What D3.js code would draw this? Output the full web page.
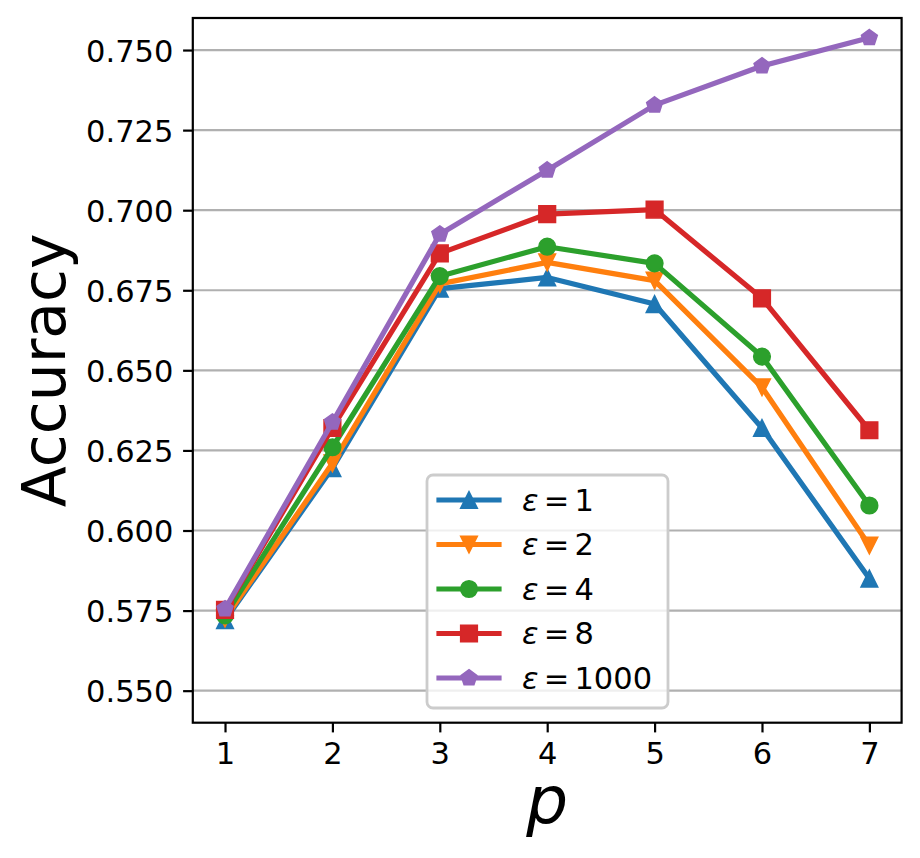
<!DOCTYPE html>
<html>
<head>
<meta charset="utf-8">
<script src="https://cdn.jsdelivr.net/npm/d3@7"></script>
<style>
  html, body { margin: 0; padding: 0; background: #fff; }
  svg { display: block; }
  text { font-family: "DejaVu Sans", sans-serif; }
</style>
</head>
<body>
<svg id="chart" width="920" height="858"></svg>
<script>
// ---- data ----
const pValues = [1, 2, 3, 4, 5, 6, 7];
const yTicks = [0.550, 0.575, 0.600, 0.625, 0.650, 0.675, 0.700, 0.725, 0.750];
const seriesLabels = ["1", "2", "4", "8", "1000"];
const eps1    = [0.5720, 0.6195, 0.6755, 0.6790, 0.6707, 0.6320, 0.5850];
const eps2    = [0.5725, 0.6210, 0.6770, 0.6837, 0.6780, 0.6447, 0.5953];
const eps4    = [0.5735, 0.6260, 0.6794, 0.6886, 0.6834, 0.6543, 0.6078];
const eps8    = [0.5752, 0.6320, 0.6865, 0.6988, 0.7002, 0.6725, 0.6313];
const eps1000 = [0.5755, 0.6338, 0.6925, 0.7125, 0.7328, 0.7450, 0.7538];

const colors = ["#1f77b4", "#ff7f0e", "#2ca02c", "#d62728", "#9467bd"];
const markers = ["triUp", "triDown", "circle", "square", "pentagon"];
const series = [eps1, eps2, eps4, eps8, eps1000].map((vals, i) => ({
  label: seriesLabels[i], values: vals, color: colors[i], marker: markers[i]
}));

// ---- layout ----
const L = 192.8, R = 901.6, T = 18, B = 722.7;
const svg = d3.select("#chart");
const x = d3.scaleLinear().domain([0.7, 7.3]).range([L, R]);
const y = d3.scaleLinear().domain([0.54, 0.76]).range([B, T]);

const fs = 30.5;
const ms = 16.7; // marker size px

function markerPath(type, s) {
  const h = s / 2;
  if (type === "triUp") return `M0,${-h}L${-h},${h}L${h},${h}Z`;
  if (type === "triDown") return `M0,${h}L${-h},${-h}L${h},${-h}Z`;
  if (type === "square") return `M${-h},${-h}H${h}V${h}H${-h}Z`;
  if (type === "circle") return d3.symbol(d3.symbolCircle, Math.PI * h * h)();
  if (type === "pentagon") {
    const pts = d3.range(5).map(k => {
      const a = -Math.PI / 2 + k * 2 * Math.PI / 5;
      return [h * Math.cos(a), h * Math.sin(a)];
    });
    return "M" + pts.map(p => p.join(",")).join("L") + "Z";
  }
}

// grid
svg.append("g").selectAll("line").data(yTicks).join("line")
  .attr("x1", L).attr("x2", R)
  .attr("y1", d => y(d)).attr("y2", d => y(d))
  .attr("stroke", "#b0b0b0").attr("stroke-width", 2.2);

// axes
const yAxis = d3.axisLeft(y).tickValues(yTicks).tickFormat(d3.format(".3f"))
  .tickSize(9.7).tickPadding(9.7);
const xAxis = d3.axisBottom(x).tickValues(pValues).tickFormat(d3.format("d"))
  .tickSize(9.7).tickPadding(9.7);

const gy = svg.append("g").attr("transform", `translate(${L},0)`).call(yAxis);
const gx = svg.append("g").attr("transform", `translate(0,${B})`).call(xAxis);
[gx, gy].forEach(g => {
  g.select(".domain").remove();
  g.selectAll(".tick line").attr("stroke", "#000").attr("stroke-width", 2.2);
  g.selectAll(".tick text").attr("fill", "#000")
    .style("font-family", "DejaVu Sans").style("font-size", fs + "px");
});
gy.selectAll(".tick text").attr("dy", "0.36em");
gx.selectAll(".tick text").attr("dy", "0.73em");

// lines + markers
const line = d3.line().x((d, i) => x(pValues[i])).y(d => y(d));
series.forEach(s => {
  const g = svg.append("g");
  g.append("path").attr("d", line(s.values))
    .attr("fill", "none").attr("stroke", s.color).attr("stroke-width", 5.2)
    .attr("stroke-linejoin", "round");
  g.selectAll("path.m").data(s.values).join("path").attr("class", "m")
    .attr("transform", (d, i) => `translate(${x(pValues[i])},${y(d)})`)
    .attr("d", markerPath(s.marker, ms))
    .attr("fill", s.color).attr("stroke", s.color).attr("stroke-width", 1.5);
});

// frame
svg.append("rect").attr("x", L).attr("y", T).attr("width", R - L).attr("height", B - T)
  .attr("fill", "none").attr("stroke", "#000").attr("stroke-width", 2.2);

// legend
const lg = svg.append("g");
lg.append("rect").attr("x", 427).attr("y", 475).attr("width", 241).attr("height", 233)
  .attr("rx", 6).attr("ry", 6)
  .attr("fill", "#fff").attr("fill-opacity", 0.8)
  .attr("stroke", "#cccccc").attr("stroke-width", 2.8);
const rowY = d3.scaleLinear().domain([0, 4]).range([500, 678]);
series.forEach((s, i) => {
  const yy = rowY(i);
  lg.append("line").attr("x1", 439).attr("x2", 499).attr("y1", yy).attr("y2", yy)
    .attr("stroke", s.color).attr("stroke-width", 5.2).attr("stroke-linecap", "square");
  lg.append("path").attr("transform", `translate(469,${yy})`)
    .attr("d", markerPath(s.marker, ms))
    .attr("fill", s.color).attr("stroke", s.color).attr("stroke-width", 1.5);
  const t = lg.append("text").attr("x", 522).attr("y", yy).attr("dy", "0.36em")
    .style("font-size", fs + "px").attr("fill", "#000");
  t.append("tspan").style("font-style", "italic").text("ε");
  t.append("tspan").attr("dx", "0.17em").text("=");
  t.append("tspan").attr("dx", "0.17em").text(s.label);
});

// axis labels
svg.append("text").attr("transform", `translate(65,${(T + B) / 2}) rotate(-90)`)
  .attr("text-anchor", "middle").style("font-size", "60px").attr("fill", "#000")
  .text("Accuracy");
svg.append("text").attr("x", (L + R) / 2).attr("y", 823)
  .attr("text-anchor", "middle").style("font-size", "66px").style("font-style", "italic")
  .attr("fill", "#000").text("p");
</script>
</body>
</html>
